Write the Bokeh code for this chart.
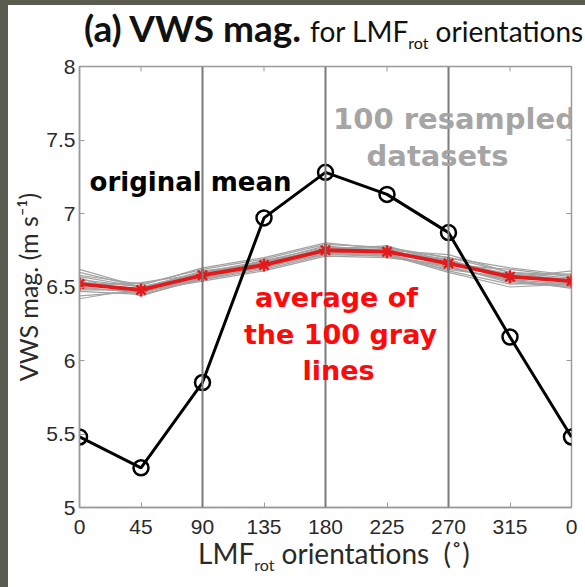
from bokeh.plotting import figure
from bokeh.models import FixedTicker, Label, Span, Spacer, Div
from bokeh.layouts import row, column
from bokeh.embed import file_html
from bokeh.resources import INLINE

# LMF_rot orientation bins (degrees); the last bin wraps back to 0
orientations = [0, 45, 90, 135, 180, 225, 270, 315, 360]
tick_labels = ["0", "45", "90", "135", "180", "225", "270", "315", "0"]

# VWS magnitude (m/s) of the original composite mean
original_mean = [5.48, 5.27, 5.85, 6.97, 7.28, 7.13, 6.87, 6.16, 5.48]

# average of the resampled datasets
resampled_average = [6.52, 6.48, 6.58, 6.65, 6.75, 6.74, 6.66, 6.57, 6.54]

# individual resampled datasets
resampled_01 = [6.55, 6.50, 6.60, 6.68, 6.77, 6.75, 6.68, 6.58, 6.55]
resampled_02 = [6.50, 6.46, 6.56, 6.63, 6.73, 6.72, 6.63, 6.55, 6.52]
resampled_03 = [6.58, 6.52, 6.62, 6.69, 6.79, 6.77, 6.70, 6.60, 6.58]
resampled_04 = [6.47, 6.45, 6.55, 6.62, 6.72, 6.71, 6.64, 6.53, 6.50]
resampled_05 = [6.60, 6.50, 6.59, 6.67, 6.76, 6.78, 6.66, 6.56, 6.61]
resampled_06 = [6.52, 6.49, 6.57, 6.64, 6.74, 6.73, 6.61, 6.52, 6.53]
resampled_07 = [6.44, 6.47, 6.60, 6.66, 6.76, 6.73, 6.67, 6.59, 6.55]
resampled_08 = [6.56, 6.44, 6.56, 6.65, 6.72, 6.75, 6.72, 6.60, 6.56]
resampled_09 = [6.53, 6.51, 6.63, 6.70, 6.80, 6.76, 6.64, 6.54, 6.50]
resampled_10 = [6.49, 6.47, 6.54, 6.61, 6.71, 6.70, 6.65, 6.62, 6.57]
resampled_11 = [6.57, 6.50, 6.58, 6.67, 6.78, 6.74, 6.69, 6.55, 6.49]
resampled_12 = [6.42, 6.49, 6.61, 6.66, 6.74, 6.72, 6.60, 6.50, 6.52]
resampled_13 = [6.51, 6.53, 6.59, 6.63, 6.75, 6.76, 6.70, 6.63, 6.58]
resampled_14 = [6.54, 6.46, 6.57, 6.68, 6.73, 6.71, 6.62, 6.56, 6.54]
resampled_15 = [6.62, 6.50, 6.55, 6.64, 6.77, 6.74, 6.66, 6.58, 6.59]
resampled_16 = [6.48, 6.48, 6.59, 6.66, 6.76, 6.77, 6.68, 6.54, 6.51]
resampled_sets = [resampled_01, resampled_02, resampled_03, resampled_04,
                  resampled_05, resampled_06, resampled_07, resampled_08,
                  resampled_09, resampled_10, resampled_11, resampled_12,
                  resampled_13, resampled_14, resampled_15, resampled_16]

y_ticks = [5, 5.5, 6, 6.5, 7, 7.5, 8]
y_tick_labels = ["5", "5.5", "6", "6.5", "7", "7.5", "8"]

AXIS_GRAY = "#9a9a9a"
TICK_FONT = "Liberation Sans"
HEAD_FONT = "Lato"
NOTE_FONT = "DejaVu Sans"

X0, X1 = 0, 360
Y0, Y1 = 5, 8
FRAME_W, FRAME_H = 492, 441
PANEL_W = 577
TITLE_H, PLOT_H, XLABEL_H = 50, 488, 44

p = figure(width=PANEL_W, height=PLOT_H, x_range=(X0, X1), y_range=(Y0, Y1),
           output_backend="svg", toolbar_location=None,
           min_border_left=71, min_border_right=14,
           min_border_top=11, min_border_bottom=36)
p.background_fill_color = "white"
p.border_fill_color = "white"
p.outline_line_color = AXIS_GRAY
p.outline_line_width = 1.5
p.xgrid.visible = False
p.ygrid.visible = False

# axes
p.xaxis.ticker = FixedTicker(ticks=orientations)
p.xaxis.major_label_overrides = dict(zip(orientations, tick_labels))
p.yaxis.ticker = FixedTicker(ticks=y_ticks)
p.yaxis.major_label_overrides = dict(zip(y_ticks, y_tick_labels))
for ax in (p.xaxis[0], p.yaxis[0]):
    ax.axis_line_color = AXIS_GRAY
    ax.axis_line_width = 1.5
    ax.major_tick_line_color = AXIS_GRAY
    ax.major_tick_in = 5
    ax.major_tick_out = 0
    ax.minor_tick_line_color = None
    ax.major_label_text_font = TICK_FONT
    ax.major_label_text_font_size = "21px"
    ax.major_label_text_color = "#2a2a2a"
p.xaxis.major_label_standoff = 12
p.yaxis.major_label_standoff = 4
p.yaxis.axis_label = "VWS mag. (m s\u207b\u00b9)"
p.yaxis.axis_label_text_font = HEAD_FONT
p.yaxis.axis_label_text_font_style = "normal"
p.yaxis.axis_label_text_font_size = "25px"
p.yaxis.axis_label_text_color = "#2a2a2a"
p.yaxis.axis_label_standoff = 0

# mirrored tick marks along the top and right edges of the box
tick_dx = 5 / FRAME_W * (X1 - X0)
tick_dy = 5 / FRAME_H * (Y1 - Y0)
p.segment(x0=orientations, y0=[Y1] * len(orientations),
          x1=orientations, y1=[Y1 - tick_dy] * len(orientations),
          line_color=AXIS_GRAY, line_width=1)
p.segment(x0=[X1] * len(y_ticks), y0=y_ticks,
          x1=[X1 - tick_dx] * len(y_ticks), y1=y_ticks,
          line_color=AXIS_GRAY, line_width=1)

# vertical reference lines
for loc in (90, 180, 270):
    p.add_layout(Span(location=loc, dimension="height", line_color="#7a7a7a", line_width=2))

# resampled datasets
for series in resampled_sets:
    p.line(orientations, series, line_color="#a2a2a2", line_width=1.2)

# average of the resampled datasets
p.line(orientations, resampled_average, line_color="#e3191b", line_width=3.8)
p.scatter(orientations, resampled_average, marker="asterisk", size=13,
          line_color="#e3191b", line_width=2.5)

# original mean
p.line(orientations, original_mean, line_color="black", line_width=3)
p.scatter(orientations, original_mean, marker="circle", size=15,
          line_color="black", line_width=2.5, fill_color=None)


def px_x(px):
    return X0 + (px - 79) / FRAME_W * (X1 - X0)


def px_y(py):
    return Y1 - (py - 66) / FRAME_H * (Y1 - Y0)


def note(text, px, py, size, color):
    return Label(x=px_x(px), y=px_y(py), text=text, text_font=NOTE_FONT,
                 text_font_size=size, text_color=color, text_font_style="bold",
                 text_align="center", text_baseline="middle")


# annotations inside the axes box
for lab in (note("original mean", 190, 181, "26px", "black"),
            note("100 resampled", 454, 118, "29px", "#a5a5a5"),
            note("datasets", 437, 155, "29px", "#a5a5a5"),
            note("average of", 336, 297, "27px", "#ff0a0a"),
            note("the 100 gray", 340, 334, "27px", "#ff0a0a"),
            note("lines", 338, 370, "27px", "#ff0a0a")):
    p.add_layout(lab)

# heading above the axes
title_html = (
    '<div style="position:relative;width:%dpx;height:%dpx;font-family:Lato;'
    'color:#111;white-space:nowrap;">'
    '<div style="position:absolute;left:76px;top:3px;line-height:40px;">'
    '<span style="font-weight:bold;font-size:37px;">(a) VWS mag.</span>'
    '<span style="font-size:28px;margin-left:9px;">for LMF<sub style="font-size:16px;">rot</sub>'
    ' orientations</span></div></div>' % (PANEL_W, TITLE_H)
)
title_div = Div(text=title_html, width=PANEL_W, height=TITLE_H, margin=0,
                styles={"background-color": "white"})

# x-axis title below the axes
xlabel_html = (
    '<div style="position:relative;width:%dpx;height:%dpx;font-family:Lato;'
    'color:#2a2a2a;white-space:nowrap;">'
    '<div style="position:absolute;left:190px;top:-5px;line-height:30px;font-size:28px;">'
    'LMF<sub style="font-size:16px;">rot</sub> orientations&nbsp;&nbsp;(\u02da)'
    '</div></div>' % (PANEL_W, XLABEL_H)
)
xlabel_div = Div(text=xlabel_html, width=PANEL_W, height=XLABEL_H, margin=0,
                 styles={"background-color": "white"})

# dark slide edge around the panel
EDGE = "#5b5b4f"
top_strip = Spacer(width=585, height=5, styles={"background-color": EDGE})
left_strip = Spacer(width=8, height=TITLE_H + PLOT_H + XLABEL_H,
                    styles={"background-color": EDGE})
panel = column(title_div, p, xlabel_div, spacing=0)
page = column(top_strip, row(left_strip, panel, spacing=0), spacing=0)

open("out.html", "w").write(file_html(page, INLINE))
